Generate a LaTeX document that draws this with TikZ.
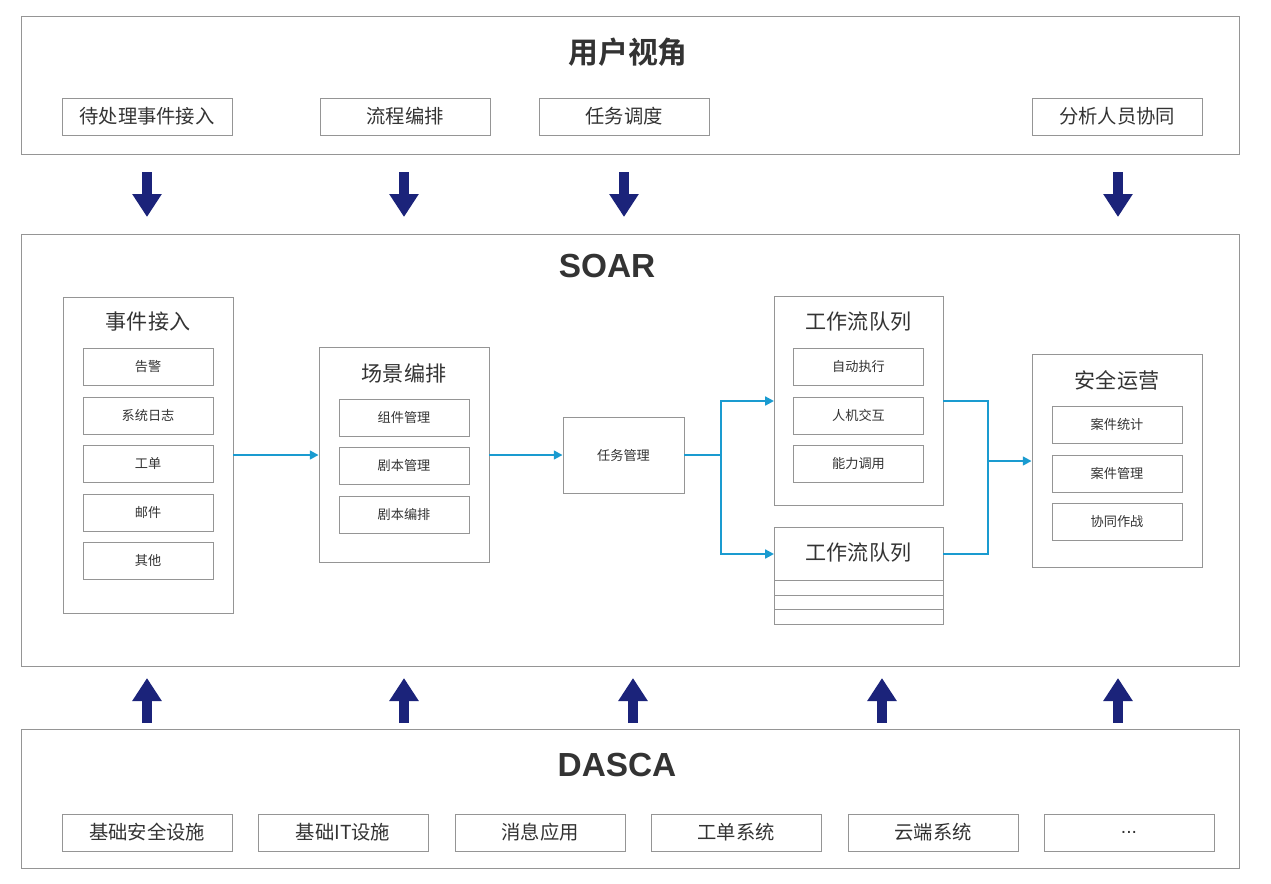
\documentclass[tikz,border=0pt]{standalone}
\usepackage{fontspec}
\setmainfont{Noto Sans CJK SC}[BoldFont=* Bold]
\newfontfamily\latinbold{Liberation Sans}
\usetikzlibrary{arrows.meta}
\definecolor{framegray}{HTML}{959595}
\definecolor{textgray}{HTML}{333333}
\definecolor{linkblue}{HTML}{1A9BD0}
\definecolor{navy}{HTML}{1B237A}

\begin{document}
\begin{tikzpicture}[x=0.02cm, y=-0.02cm, text=textgray,
  frame/.style = {draw = framegray, line width = 0.5pt, inner sep = 0},
  box/.style = {frame, minimum width = 3.4cm, minimum height = 0.74cm, font = \fontsize{11}{13}\selectfont},
  item/.style = {frame, minimum width = 2.6cm, minimum height = 0.74cm, font = \fontsize{7.5}{9}\selectfont},
  head/.style = {font = \fontsize{12}{14}\selectfont},
  bigtitle/.style = {font = \fontsize{17}{20}\selectfont\bfseries},
  latintitle/.style = {font = \fontsize{19}{23}\selectfont\latinbold\bfseries},
  link/.style = {draw = linkblue, line width = 1.2pt, -{Triangle[length=5pt, width=5pt]}},
  fat/.style = {draw = navy, line width = 0.2cm, -{Triangle[length=0.46cm, width=0.56cm]}}
]
\useasboundingbox (0,0) rectangle (1271,883);

% user view
\draw[framegray, line width = 0.5pt] (21,16) rectangle (1239,154);
\node[bigtitle] (user) at (628,52) {用户视角};
\node[box] (u1) at (147,116.5) {待处理事件接入};
\node[box] (u2) at (405,116.5) {流程编排};
\node[box] (u3) at (624,116.5) {任务调度};
\node[box] (u4) at (1117,116.5) {分析人员协同};
\foreach \x in {147,404,624,1118}
  \draw[fat] (\x,172) -- (\x,217);

% SOAR
\draw[framegray, line width = 0.5pt] (21,234) rectangle (1239,666);
\node[latintitle] (soar) at (607,266) {SOAR};

\node[frame, minimum width = 3.4cm, minimum height = 6.32cm] (event) at (148,455) {};
\node[head] at (148,322) {事件接入};
\node[item] (e1) at (148,366.5) {告警};
\node[item] (e2) at (148,415.5) {系统日志};
\node[item] (e3) at (148,463.5) {工单};
\node[item] (e4) at (148,512.5) {邮件};
\node[item] (e5) at (148,560.5) {其他};

\node[frame, minimum width = 3.4cm, minimum height = 4.3cm] (scene) at (404,455) {};
\node[head] at (404,373) {场景编排};
\node[item] (s1) at (404,417.5) {组件管理};
\node[item] (s2) at (404,465.5) {剧本管理};
\node[item] (s3) at (404,514.5) {剧本编排};

\node[frame, minimum width = 2.42cm, minimum height = 1.52cm, font = \fontsize{7.5}{9}\selectfont] (task) at (623.5,455) {任务管理};

\node[frame, minimum width = 3.38cm, minimum height = 4.18cm] (flowA) at (858.5,400.5) {};
\node[head] at (858.5,322) {工作流队列};
\node[item] (f1) at (858.5,366.5) {自动执行};
\node[item] (f2) at (858.5,415.5) {人机交互};
\node[item] (f3) at (858.5,463.5) {能力调用};

\node[frame, minimum width = 3.38cm, minimum height = 1.94cm] (flowB) at (858.5,575.5) {};
\node[head] at (858.5,553) {工作流队列};
\foreach \y in {580,595,609}
  \draw[framegray, line width = 0.5pt] (774,\y) -- (943,\y);

\node[frame, minimum width = 3.4cm, minimum height = 4.26cm] (ops) at (1117,460.5) {};
\node[head] at (1117,380) {安全运营};
\node[item] (o1) at (1117,424.5) {案件统计};
\node[item] (o2) at (1117,473.5) {案件管理};
\node[item] (o3) at (1117,521.5) {协同作战};

\draw[link] (event.east) -- (scene.west);
\draw[link] (scene.east) -- (task.west);
\coordinate (split) at (721,455);
\coordinate (join) at (988,461);
\draw[draw = linkblue, line width = 1.2pt] (task.east) -- (split);
\draw[link] (split) |- (774,401);
\draw[link] (split) |- (774,554);
\draw[draw = linkblue, line width = 1.2pt] (943,401) -| (join);
\draw[draw = linkblue, line width = 1.2pt] (943,554) -| (join);
\draw[link] (join) -- (ops.west |- join);

\foreach \x in {147,404,633,882,1118}
  \draw[fat] (\x,723) -- (\x,678);

% DASCA
\draw[framegray, line width = 0.5pt] (21,729) rectangle (1239,868);
\node[latintitle] (dasca) at (617,765) {DASCA};
\node[box] (d1) at (147,832.5) {基础安全设施};
\node[box] (d2) at (343,832.5) {基础IT设施};
\node[box] (d3) at (540,832.5) {消息应用};
\node[box] (d4) at (736,832.5) {工单系统};
\node[box] (d5) at (933,832.5) {云端系统};
\node[box, font = \fontsize{11}{13}\latinbold\mdseries] (d6) at (1129,832.5) {...};
\end{tikzpicture}
\end{document}
